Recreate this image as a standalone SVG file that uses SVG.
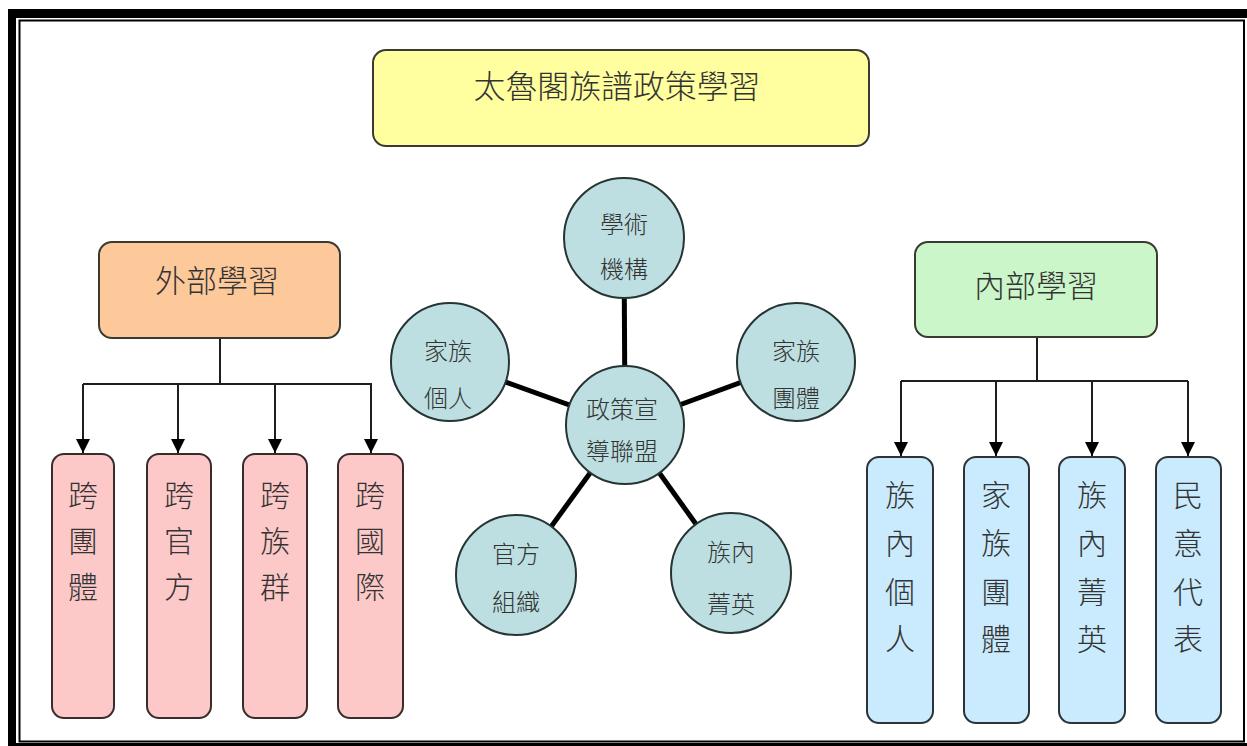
<svg xmlns="http://www.w3.org/2000/svg" width="1247" height="746" viewBox="0 0 1247 746">
<defs>
<style>
text{font-family:"Noto Sans CJK TC","Noto Sans CJK SC",sans-serif;font-weight:300;fill:#333;text-anchor:middle;dominant-baseline:central}
.box{stroke:#3a3a30;stroke-width:2}
.pink{fill:#fcc9c8;stroke:#3a2c2c;stroke-width:2}
.blue{fill:#c9ebfd;stroke:#2c3438;stroke-width:2}
.circ{fill:#bddfe1;stroke:#263434;stroke-width:2}
.conn{stroke:#1e1e1e;stroke-width:2;fill:none}
.thick{stroke:#000;stroke-width:5;fill:none}
.big{font-size:32px}
.mid{font-size:31px}
.cir{font-size:24px}
.col{font-size:30px}
</style>
<marker id="arr" markerUnits="userSpaceOnUse" markerWidth="16" markerHeight="16" refX="14" refY="7" orient="auto">
<path d="M0,0 L14,7 L0,14 Z" fill="#000"/>
</marker>
</defs>
<rect width="1247" height="746" fill="#fff"/>
<g id="frame">
<rect x="8" y="9" width="1239" height="9" fill="#000"/>
<rect x="8" y="9" width="8" height="737" fill="#000"/>
<rect x="19.5" y="20.5" width="1224.5" height="721" fill="none" stroke="#000" stroke-width="2"/>
<rect x="8" y="743" width="1239" height="3" fill="#000"/>
</g>
<g id="connectors">
<path class="conn" d="M220,338 V384 M83,384 H372"/>
<path class="conn" marker-end="url(#arr)" d="M83,384 V453"/>
<path class="conn" marker-end="url(#arr)" d="M178,384 V453"/>
<path class="conn" marker-end="url(#arr)" d="M275,384 V453"/>
<path class="conn" marker-end="url(#arr)" d="M371,384 V453"/>
<path class="conn" d="M1037,337 V381 M901,381 H1188"/>
<path class="conn" marker-end="url(#arr)" d="M901,381 V456"/>
<path class="conn" marker-end="url(#arr)" d="M996,381 V456"/>
<path class="conn" marker-end="url(#arr)" d="M1092,381 V456"/>
<path class="conn" marker-end="url(#arr)" d="M1188,381 V456"/>
<path class="thick" d="M625,425 L624,238"/>
<path class="thick" d="M625,425 L450,362"/>
<path class="thick" d="M625,425 L796,362"/>
<path class="thick" d="M625,425 L516,575"/>
<path class="thick" d="M625,425 L731,573"/>
</g>
<g id="title">
<rect class="box" x="373" y="50" width="496" height="96" rx="13" fill="#ffff9f"/>
<text class="big" x="617" y="84" textLength="287" lengthAdjust="spacingAndGlyphs">太魯閣族譜政策學習</text>
</g>
<g id="external">
<rect class="box" x="99" y="242" width="241" height="96" rx="13" fill="#fdc99b"/>
<text class="mid" x="217" y="278">外部學習</text>
</g>
<g id="internal">
<rect class="box" x="915" y="242" width="242" height="95" rx="13" fill="#cbf6c9"/>
<text class="mid" x="1036" y="283">內部學習</text>
</g>
<g id="ext1"><rect class="pink" x="52" y="454" width="62" height="264" rx="12"/><text class="col" x="83" y="493">跨</text><text class="col" x="83" y="539">團</text><text class="col" x="83" y="585">體</text></g>
<g id="ext2"><rect class="pink" x="147" y="454" width="64" height="264" rx="12"/><text class="col" x="179" y="493">跨</text><text class="col" x="179" y="539">官</text><text class="col" x="179" y="585">方</text></g>
<g id="ext3"><rect class="pink" x="243" y="454" width="64" height="264" rx="12"/><text class="col" x="275" y="493">跨</text><text class="col" x="275" y="539">族</text><text class="col" x="275" y="585">群</text></g>
<g id="ext4"><rect class="pink" x="338" y="454" width="65" height="264" rx="12"/><text class="col" x="370" y="493">跨</text><text class="col" x="370" y="539">國</text><text class="col" x="370" y="585">際</text></g>
<g id="int1"><rect class="blue" x="867" y="457" width="66" height="266" rx="12"/><text class="col" x="900" y="493">族</text><text class="col" x="900" y="541">內</text><text class="col" x="900" y="590">個</text><text class="col" x="900" y="637">人</text></g>
<g id="int2"><rect class="blue" x="964" y="457" width="65" height="266" rx="12"/><text class="col" x="996" y="493">家</text><text class="col" x="996" y="541">族</text><text class="col" x="996" y="590">團</text><text class="col" x="996" y="637">體</text></g>
<g id="int3"><rect class="blue" x="1059" y="457" width="66" height="266" rx="12"/><text class="col" x="1092" y="493">族</text><text class="col" x="1092" y="541">內</text><text class="col" x="1092" y="590">菁</text><text class="col" x="1092" y="637">英</text></g>
<g id="int4"><rect class="blue" x="1156" y="457" width="65" height="266" rx="12"/><text class="col" x="1188" y="493">民</text><text class="col" x="1188" y="541">意</text><text class="col" x="1188" y="590">代</text><text class="col" x="1188" y="637">表</text></g>
<g id="c-academic"><circle class="circ" cx="624" cy="238" r="60"/><text class="cir" x="624" y="222">學術</text><text class="cir" x="624" y="267">機構</text></g>
<g id="c-family-person"><circle class="circ" cx="450" cy="362" r="59"/><text class="cir" x="448" y="349">家族</text><text class="cir" x="448" y="396">個人</text></g>
<g id="c-family-group"><circle class="circ" cx="796" cy="362" r="59"/><text class="cir" x="796" y="349">家族</text><text class="cir" x="796" y="396">團體</text></g>
<g id="c-center"><circle class="circ" cx="625" cy="425" r="59"/><text class="cir" x="622" y="407">政策宣</text><text class="cir" x="622" y="449">導聯盟</text></g>
<g id="c-official"><circle class="circ" cx="516" cy="575" r="60"/><text class="cir" x="516" y="552">官方</text><text class="cir" x="516" y="600">組織</text></g>
<g id="c-elite"><circle class="circ" cx="731" cy="573" r="60"/><text class="cir" x="731" y="550">族內</text><text class="cir" x="731" y="602">菁英</text></g>
</svg>
